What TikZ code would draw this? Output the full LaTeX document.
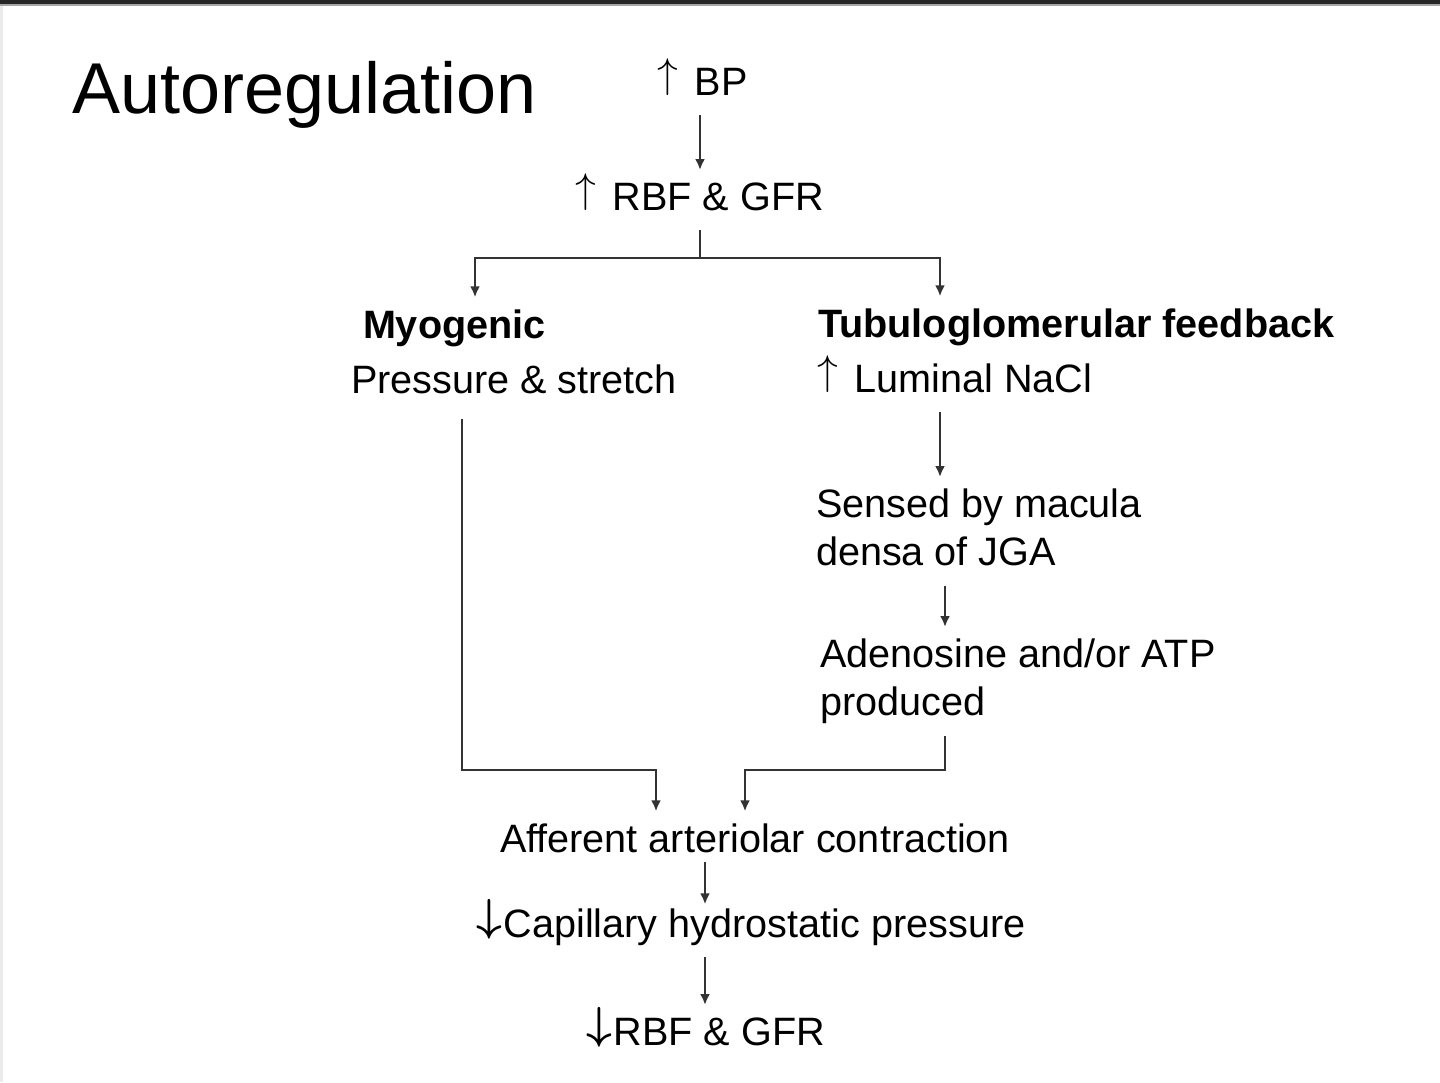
\documentclass[tikz,border=0pt]{standalone}
\usepackage{fontspec}
\setmainfont{Liberation Sans}
\usetikzlibrary{arrows.meta}
\newcommand{\lnstrut}{\rule[-4pt]{0pt}{18pt}}
\newcommand{\rise}{\smash{\raisebox{3.8pt}{$\uparrow$}}\hspace{8.5pt}}
\newcommand{\fall}{\smash{\raisebox{3.4pt}{\boldmath\scalebox{1.08}{$\downarrow$}}}\hspace{1pt}}
\begin{document}
\begin{tikzpicture}[x=0.5pt,y=-0.5pt,
    txt/.style={inner sep=0pt, outer sep=0pt, font=\fontsize{19.8}{24}\selectfont},
    link/.style={draw=black!80, line width=1.25pt, -{Latex[length=5.5pt,width=5pt]},
      shorten <=6pt, shorten >=6pt}]
  \useasboundingbox (0,0) rectangle (1440,1082);
  % slide frame
  \fill[black!85] (0,0) rectangle (1440,4);
  \fill[black!35] (0,4) rectangle (1440,6);
  \fill[black!8] (0,6) rectangle (3,1082);
  % title
  \node[txt, anchor=base west, font=\fontsize{36}{40}\selectfont] (title) at (72,113) {Autoregulation};
  % top of the chain
  \node[txt, anchor=base west] (bp) at (657,95) {\lnstrut\rise BP};
  \node[txt, anchor=base west] (rbfup) at (575,210) {\lnstrut\rise RBF \& GFR};
  % the two branches
  \node[txt, anchor=base west] (myo) at (363,338) {\lnstrut\bfseries Myogenic};
  \node[txt, anchor=base west] (press) at (351,393) {\lnstrut Pressure \& stretch};
  \node[txt, anchor=base west] (tgf) at (818,337) {\lnstrut\bfseries Tubuloglomerular feedback};
  \node[txt, anchor=base west] (nacl) at (817,392) {\lnstrut\rise Luminal NaCl};
  \node[txt, anchor=north west, align=left] (jga) at (816,489) {\lnstrut Sensed by macula\\ densa of JGA\lnstrut};
  \node[txt, anchor=north west, align=left] (atp) at (820,639) {\lnstrut Adenosine and/or ATP\\ produced\lnstrut};
  % common end
  \node[txt, anchor=base west] (aff) at (500,852) {\lnstrut Afferent arteriolar contraction};
  \node[txt, anchor=base west] (cap) at (476,937) {\lnstrut\fall Capillary hydrostatic pressure};
  \node[txt, anchor=base west] (rbfdown) at (586,1045) {\lnstrut\fall RBF \& GFR};
  % junction points
  \coordinate (fork) at (700,258);
  \coordinate (forkL) at (475,258);
  \coordinate (forkR) at (940,258);
  \coordinate (mergeL) at (462,770);
  \coordinate (mergeR) at (945,770);
  \coordinate (dropL) at (656,770);
  \coordinate (dropR) at (745,770);
  \coordinate (stemB) at (705,1045);
  % connectors
  \draw[link] (fork |- bp.south) -- (fork |- rbfup.north);
  \draw[link, -, shorten >=0pt] (fork |- rbfup.south) -- (fork);
  \draw[link, {Latex[length=5.5pt,width=5pt]}-{Latex[length=5.5pt,width=5pt]}]
    (forkL |- myo.north) -- (forkL) -- (forkR) -- (forkR |- tgf.north);
  \draw[link] (forkR |- nacl.south) -- (forkR |- jga.north);
  \draw[link] (mergeR |- jga.south) -- (mergeR |- atp.north);
  \draw[link, shorten <=9pt] (mergeL |- press.south) -- (mergeL) -- (dropL) -- (dropL |- aff.north);
  \draw[link] (mergeR |- atp.south) -- (mergeR) -- (dropR) -- (dropR |- aff.north);
  \draw[link, shorten <=1pt, shorten >=2pt] (stemB |- aff.south) -- (stemB |- cap.north);
  \draw[link] (stemB |- cap.south) -- (stemB |- rbfdown.north);
\end{tikzpicture}
\end{document}
